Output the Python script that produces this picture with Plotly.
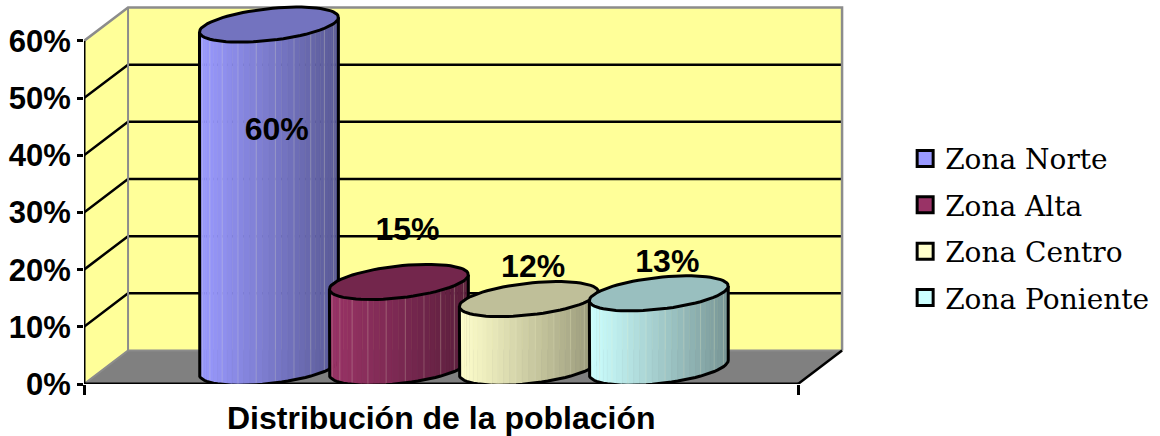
import math
import plotly.graph_objects as go

# ---- data ----
zones = ["Zona Norte", "Zona Alta", "Zona Centro", "Zona Poniente"]
shares = [60, 15, 12, 13]
colors = ["#9999FF", "#993366", "#FFFFCC", "#CCFFFF"]
y_ticks = [0, 10, 20, 30, 40, 50, 60]
y_labels = ["0%", "10%", "20%", "30%", "40%", "50%", "60%"]
x_title = "Distribución de la población"

# ---- oblique projection, in axis units ----
WALL_DX, WALL_DY = 0.0617, 5.85     # depth of the box
SPACING = 0.182                     # distance between neighbouring cylinders
UX, UY = 0.0925, 0.35               # ellipse: "width" half-axis
VX, VY = 0.0301, 3.05               # ellipse: "depth" half-axis
BASE_Y = 2.85                       # ellipse centre above the front floor edge
CENTRE_SHIFT = 0.032                # cylinders sit mid-depth of the box
NUDGE = [(0.011, -15.95), (0.012, 11.55), (0.006, 8.15), (0.012, 7.95)]  # label offsets
STRIPS = 34
FONT = "Liberation Sans"

fig = go.Figure()


def line(xs, ys, color="black", width=2.5):
    fig.add_trace(go.Scatter(x=xs, y=ys, mode="lines", showlegend=False, hoverinfo="skip",
                             cliponaxis=False, line=dict(color=color, width=width)))


def poly(xs, ys, fill, edge=None, width=0):
    fig.add_trace(go.Scatter(x=xs, y=ys, mode="lines", fill="toself", fillcolor=fill,
                             showlegend=False, hoverinfo="skip", cliponaxis=False,
                             line=dict(color=edge or fill, width=width if edge else 0.6)))


def shade(hex_color, k):
    r, g, b = (int(hex_color[i:i + 2], 16) for i in (1, 3, 5))
    return f"rgb({r * k:.0f},{g * k:.0f},{b * k:.0f})"


# ---- box ----
top = y_ticks[-1]
WALL = "#FFFF99"
poly([WALL_DX, 1 + WALL_DX, 1 + WALL_DX, WALL_DX, WALL_DX],
     [WALL_DY, WALL_DY, top + WALL_DY, top + WALL_DY, WALL_DY], WALL)
poly([0, WALL_DX, WALL_DX, 0, 0], [0, WALL_DY, top + WALL_DY, top, 0], WALL)
poly([0, 1, 1 + WALL_DX, WALL_DX, 0], [0, 0, WALL_DY, WALL_DY, 0], "#808080")
for v in y_ticks[1:-1]:
    line([0, WALL_DX, 1 + WALL_DX], [v, v + WALL_DY, v + WALL_DY])
GREY = "#8C8C8C"
line([0, WALL_DX, 1 + WALL_DX, 1 + WALL_DX], [top, top + WALL_DY, top + WALL_DY, WALL_DY], GREY, 2.5)
line([0, WALL_DX, 1 + WALL_DX], [0, WALL_DY, WALL_DY], GREY, 2)
line([WALL_DX, WALL_DX], [WALL_DY, top + WALL_DY], GREY, 2)
line([1, 1 + WALL_DX], [0, WALL_DY])
line([0, 0], [0, top], "black", 3)
line([0, 1], [0, 0], "black", 3)

# ---- cylinders ----
t_left = math.pi + math.atan2(VX, UX)
half_w = math.hypot(UX, VX)


def point(cx, cy, t):
    return (cx + UX * math.cos(t) + VX * math.sin(t),
            cy + UY * math.cos(t) + VY * math.sin(t))


def centre(i):
    return 0.5 + (i - (len(shares) - 1) / 2) * SPACING + CENTRE_SHIFT


for i, (value, color) in enumerate(zip(shares, colors)):
    cx = centre(i)
    base, head = BASE_Y, BASE_Y + value
    ts = [t_left + math.pi * k / STRIPS for k in range(STRIPS + 1)]
    for k in range(STRIPS):
        a, b = point(cx, base, ts[k]), point(cx, base, ts[k + 1])
        frac = (a[0] - (cx - half_w)) / (2 * half_w)
        poly([a[0], b[0], b[0], a[0], a[0]],
             [a[1], b[1], b[1] + value, a[1] + value, a[1]],
             shade(color, 1 - 0.42 * max(0.0, min(1.0, frac))))
    for k in range(3, STRIPS - 1, 3):           # faint facet seams
        a = point(cx, base, ts[k])
        line([a[0], a[0]], [a[1], a[1] + value], "rgba(255,255,220,0.22)", 1)
    lower = [point(cx, base, t) for t in ts]
    line([lower[0][0]] + [p[0] for p in lower] + [lower[-1][0]],
         [lower[0][1] + value] + [p[1] for p in lower] + [lower[-1][1] + value], "black", 3)
    cap = [point(cx, head, 2 * math.pi * k / 72) for k in range(73)]
    poly([p[0] for p in cap], [p[1] for p in cap], shade(color, 0.75), "black", 3)

# ---- value labels ----
for i, (value, (nx, ny)) in enumerate(zip(shares, NUDGE)):
    fig.add_trace(go.Scatter(x=[centre(i) + nx], y=[value + ny], mode="text", text=[f"{value}%"],
                             textposition="middle center", showlegend=False, cliponaxis=False,
                             hoverinfo="skip",
                             textfont=dict(family=FONT, size=32, color="black", weight="bold")))

# ---- legend ----
for zone, color in zip(zones, colors):
    fig.add_trace(go.Scatter(x=[None], y=[None], mode="markers", name=zone, legendgroup=zone,
                             marker=dict(symbol="square", size=16, color=color,
                                         line=dict(color="black", width=3))))

# ---- axis title ----
fig.add_annotation(x=0.5, xref="x", y=-0.09, yref="paper", text=f"<b>{x_title}</b>", showarrow=False,
                   font=dict(family=FONT, size=32, color="black"), yanchor="middle")

fig.update_layout(
    width=1160, height=436, autosize=False,
    margin=dict(l=84, r=310, t=4, b=51.5, pad=0),
    paper_bgcolor="white", plot_bgcolor="white",
    font=dict(family=FONT, color="black"),
    hovermode=False,
    xaxis=dict(range=[0, 1.0728], tickvals=[0, 1], ticktext=["", ""], ticks="outside",
               ticklen=10, tickwidth=2.5, tickcolor="black", showgrid=False, zeroline=False,
               showline=False),
    yaxis=dict(range=[0, 66.46], tickvals=y_ticks, ticktext=y_labels, ticks="outside", ticklen=6,
               tickwidth=2.5, tickcolor="black", showgrid=False, zeroline=False, showline=False,
               tickfont=dict(family=FONT, size=31, color="black", weight="bold")),
    legend=dict(x=1.072, y=0.41, xanchor="left", yanchor="middle", tracegroupgap=7,
                itemsizing="trace", font=dict(family="DejaVu Serif", size=28, color="black"),
                bgcolor="rgba(0,0,0,0)", borderwidth=0),
)

fig.write_html("out.html", config={"displayModeBar": False},
               post_script="document.body.style.margin='0';")
